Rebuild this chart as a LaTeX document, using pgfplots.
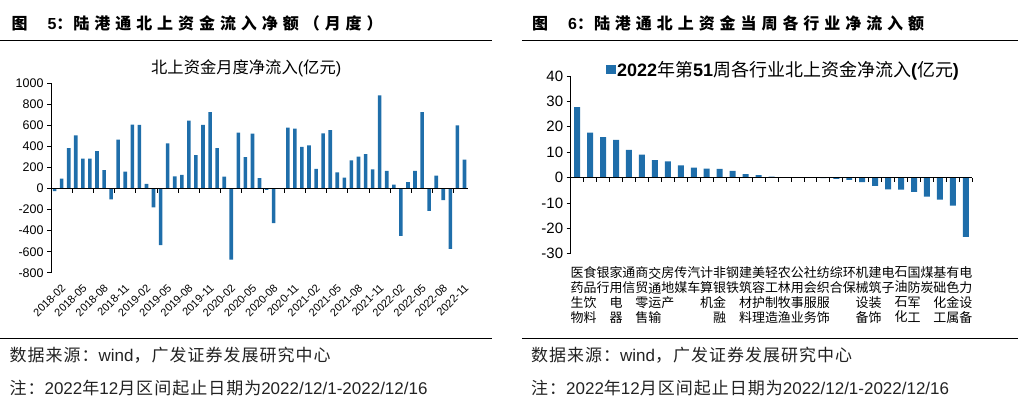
\documentclass[border=0pt]{standalone}
\usepackage{pgfplots}
\usepackage{pgfplotstable}
\pgfplotsset{compat=1.18}
\usepackage{fontspec}
\setmainfont{Liberation Sans}
\newfontfamily\cjk{Noto Sans CJK SC}
\newfontfamily\cjkt{Noto Sans CJK SC}[LetterSpace=31]
\newfontfamily\cjkf{Noto Sans CJK SC}[LetterSpace=6]
\newcommand\C[1]{{\cjk #1}}
\newcommand\T[1]{{\cjkt #1}}
\newcommand\F[1]{{\cjkf #1}}
\definecolor{barblue}{HTML}{1F6EAA}
\definecolor{foot}{HTML}{222222}

\pgfplotstableread{
x y
0 -25
1 94
2 384
3 506
4 283
5 283
6 355
7 176
8 -104
9 465
10 160
11 607
12 604
13 44
14 -179
15 -538
16 428
17 116
18 129
19 645
20 318
21 604
22 726
23 384
24 113
25 -676
26 531
27 299
28 522
29 100
30 -12
31 -328
32 -3
33 579
34 569
35 396
36 409
37 186
38 525
39 554
40 154
41 104
42 267
43 302
44 327
45 182
46 884
47 167
48 38
49 -450
50 60
51 167
52 726
53 -211
54 123
55 -110
56 -572
57 601
58 274
}\lefttab

\pgfplotstableread{
x y
1 27.7
2 17.7
3 15.9
4 14.8
5 10.9
6 9.0
7 6.9
8 6.4
9 4.8
10 3.9
11 3.5
12 3.4
13 2.6
14 1.4
15 1.0
16 0.4
17 0.1
18 0.0
19 0.0
20 -0.2
21 -0.5
22 -0.9
23 -1.8
24 -3.3
25 -4.6
26 -4.7
27 -5.6
28 -7.5
29 -8.7
30 -11.0
31 -23.3
}\righttab

\begin{document}
\begin{tikzpicture}[x=1pt,y=1pt]
\path (0,0) rectangle (1018,408);

% ---------- left panel frame texts ----------
\node[anchor=west, inner sep=0pt, font=\fontsize{16}{18}\selectfont\bfseries] at (11,385)
  {\C{图}\hspace{20pt}5\C{：}\hspace{1pt}\T{陆港通北上资金流入净额（月度）}};
\draw[line width=0.8pt] (0,368) -- (492,368);
\draw[line width=0.8pt] (0,69) -- (492,69);
\node[anchor=west, inner sep=0pt, text=foot, font=\fontsize{17}{20}\selectfont] at (9,53)
  {\F{数据来源：}wind\F{，广发证券发展研究中心}};
\node[anchor=west, inner sep=0pt, text=foot, font=\fontsize{17}{20}\selectfont] at (9,20)
  {\F{注：}2022\F{年}12\F{月区间起止日期为}2022/12/1-2022/12/16};
\node[inner sep=0pt, font=\fontsize{16.3}{18}\selectfont] at (246,340)
  {\C{北上资金月度净流入}(\C{亿元})};

% ---------- right panel frame texts ----------
\node[anchor=west, inner sep=0pt, font=\fontsize{16}{18}\selectfont\bfseries] at (532,385)
  {\C{图}\hspace{20pt}6\C{：}\hspace{1pt}\T{陆港通北上资金当周各行业净流入额}};
\draw[line width=0.8pt] (522,368) -- (1018,368);
\draw[line width=0.8pt] (522,69) -- (1018,69);
\node[anchor=west, inner sep=0pt, text=foot, font=\fontsize{17}{20}\selectfont] at (531,53)
  {\F{数据来源：}wind\F{，广发证券发展研究中心}};
\node[anchor=west, inner sep=0pt, text=foot, font=\fontsize{17}{20}\selectfont] at (531,20)
  {\F{注：}2022\F{年}12\F{月区间起止日期为}2022/12/1-2022/12/16};

% ---------- left chart ----------
\begin{axis}[
  at={(50.7pt,135pt)}, anchor=south west, scale only axis,
  width=417.3pt, height=189.7pt,
  xmin=-0.5, xmax=58.5, ymin=-800, ymax=1000,
  axis y line*=left, axis x line*=bottom,
  x axis line style={draw=none},
  y axis line style={black, line width=0.8pt},
  tick align=outside, major tick length=4pt,
  xtick={0,3,...,57},
  xticklabels={2018-02,2018-05,2018-08,2018-11,2019-02,2019-05,2019-08,2019-11,2020-02,2020-05,2020-08,2020-11,2021-02,2021-05,2021-08,2021-11,2022-02,2022-05,2022-08,2022-11},
  x tick style={draw=none},
  xticklabel style={rotate=45, anchor=east, inner sep=1pt, font=\fontsize{11}{12}\selectfont, yshift=-13pt, xshift=1pt},
  ytick={-800,-600,...,1000},
  y tick style={black, line width=0.8pt},
  yticklabel style={font=\fontsize{12.5}{14}\selectfont},
  /pgf/number format/assume math mode=true,
  /pgf/number format/1000 sep={},
  ybar, bar width=3.6pt,
]
\addplot[fill=barblue, draw=none] table[x=x,y=y] {\lefttab};
\end{axis}
\begin{axis}[
  at={(50.7pt,135pt)}, anchor=south west, scale only axis,
  width=417.3pt, height=189.7pt,
  xmin=-0.5, xmax=58.5, ymin=-800, ymax=1000,
  axis y line=none, axis x line*=middle,
  x axis line style={black, line width=0.8pt},
  tick align=outside, major tick length=4pt,
  xtick={2.5,5.5,...,56.5}, xticklabels={},
  x tick style={black, line width=0.8pt},
  ytick=\empty,
]
\addplot[draw=none] coordinates {(0,0)};
\end{axis}

% ---------- right chart ----------
\begin{axis}[
  at={(570.7pt,154pt)}, anchor=south west, scale only axis,
  width=402pt, height=178pt,
  xmin=0.5, xmax=31.5, ymin=-30, ymax=40,
  axis y line*=left, axis x line*=bottom,
  x axis line style={draw=none},
  y axis line style={black, line width=0.8pt},
  tick align=outside, major tick length=4pt,
  xtick={1,...,31},
  xticklabels={{医\\药\\生\\物},{食\\品\\饮\\料},{银\\行},{家\\用\\电\\器},{通\\信},{商\\贸\\零\\售},{交\\通\\运\\输},{房\\地\\产},{传\\媒},{汽\\车},{计\\算\\机},{非\\银\\金\\融},{钢\\铁},{建\\筑\\材\\料},{美\\容\\护\\理},{轻\\工\\制\\造},{农\\林\\牧\\渔},{公\\用\\事\\业},{社\\会\\服\\务},{纺\\织\\服\\饰},{综\\合},{环\\保},{机\\械\\设\\备},{建\\筑\\装\\饰},{电\\子},{石\\油\\石\\化},{国\\防\\军\\工},{煤\\炭},{基\\础\\化\\工},{有\\色\\金\\属},{电\\力\\设\\备}},
  x tick style={draw=none},
  xticklabel style={align=center, anchor=north, inner sep=0pt, yshift=-9pt, font=\cjk\fontsize{13}{15}\selectfont},
  ytick={-30,-20,...,40},
  y tick style={black, line width=0.8pt},
  yticklabel style={font=\fontsize{15}{17}\selectfont},
  /pgf/number format/assume math mode=true,
  ybar, bar width=6pt,
  legend style={draw=none, fill=none, at={(0.088,1.034)}, anchor=west, inner sep=0pt,
    font=\fontsize{18}{20}\selectfont, nodes={inner sep=1.5pt}},
  legend image code/.code={\fill[barblue] (0pt,-4.5pt) rectangle (9.5pt,5pt);},
]
\addplot[fill=barblue, draw=none] table[x=x,y=y] {\righttab};
\addlegendentry{\textbf{2022}\C{年第}\textbf{51}\C{周各行业北上资金净流入}\textbf{(}\C{亿元}\textbf{)}}
\end{axis}
\begin{axis}[
  at={(570.7pt,154pt)}, anchor=south west, scale only axis,
  width=402pt, height=178pt,
  xmin=0.5, xmax=31.5, ymin=-30, ymax=40,
  axis y line=none, axis x line*=middle,
  x axis line style={black, line width=0.8pt},
  tick align=outside, major tick length=4pt,
  xtick={1.5,2.5,...,31.5}, xticklabels={},
  x tick style={black, line width=0.8pt},
  ytick=\empty,
]
\addplot[draw=none] coordinates {(1,0)};
\end{axis}
\end{tikzpicture}
\end{document}
